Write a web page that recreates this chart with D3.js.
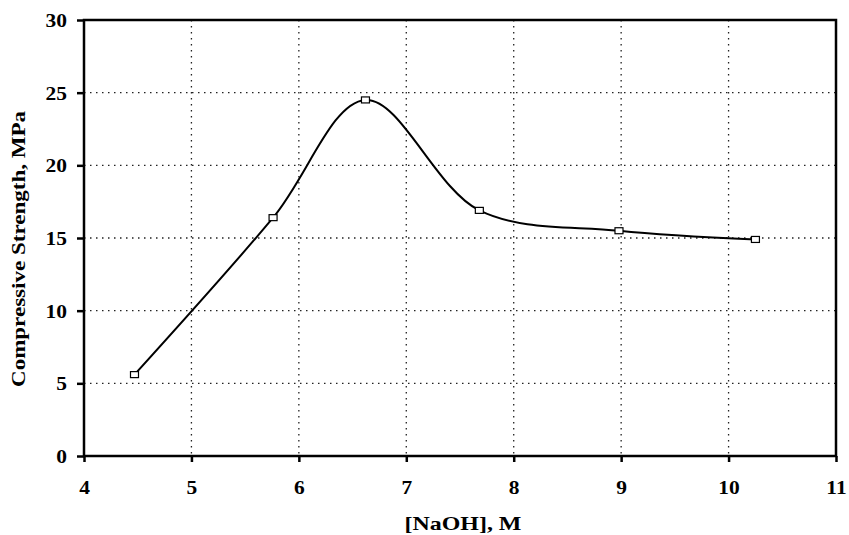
<!DOCTYPE html>
<html><head><meta charset="utf-8">
<script src="https://cdn.jsdelivr.net/npm/d3@7"></script>
<style>body{margin:0;background:#fff}svg text{font-family:"Liberation Serif","Times New Roman",serif;font-weight:bold}</style>
</head><body><svg id="c" width="849" height="535"></svg>
<script>
const naoh = [4.47, 5.76, 6.62, 7.68, 8.98, 10.25];
const strength = [5.6, 16.4, 24.5, 16.9, 15.5, 14.9];
const xTicks = [4,5,6,7,8,9,10,11];
const yTicks = [0,5,10,15,20,25,30];
const xLabel = "[NaOH], M";
const yLabel = "Compressive Strength, MPa";

const svg = d3.select("#c");
const L=84, R=836, T=20, B=456;
const x = d3.scaleLinear().domain([4,11]).range([L,R]);
const y = d3.scaleLinear().domain([0,30]).range([B,T]);

// grid
svg.append("g").selectAll("line").data(xTicks.slice(1,-1)).join("line")
  .attr("x1",d=>x(d)).attr("x2",d=>x(d)).attr("y1",T).attr("y2",B)
  .attr("stroke","#222").attr("stroke-width",1.3).attr("stroke-dasharray","1.5,4.5");
svg.append("g").selectAll("line").data(yTicks.slice(1,-1)).join("line")
  .attr("y1",d=>y(d)).attr("y2",d=>y(d)).attr("x1",L).attr("x2",R)
  .attr("stroke","#222").attr("stroke-width",1.3).attr("stroke-dasharray","1.5,4.5");

// axes
const xa = svg.append("g").attr("transform",`translate(0,${B})`)
  .call(d3.axisBottom(x).tickValues(xTicks).tickSize(6).tickPadding(20).tickFormat(d3.format("d")));
const ya = svg.append("g").attr("transform",`translate(${L},0)`)
  .call(d3.axisLeft(y).tickValues(yTicks).tickSize(7).tickPadding(10).tickFormat(d3.format("d")));
[xa,ya].forEach(a=>{
  a.attr("font-family","Liberation Serif");
  a.select(".domain").remove();
  a.selectAll(".tick line").attr("stroke","#000").attr("stroke-width",2.5);
  a.selectAll("text").attr("font-size",19).attr("fill","#000")
   .style("font-family","'Liberation Serif',serif").style("font-weight","bold");
});
xa.selectAll(".tick text").attr("y",null).attr("dy",null)
  .attr("transform","translate(0,38) scale(1.13,1)");
ya.selectAll(".tick text").attr("x",null).attr("dy","0.34em")
  .attr("transform","translate(-17,0) scale(1.13,1)");

// frame
svg.append("rect").attr("x",L).attr("y",T).attr("width",R-L).attr("height",B-T)
  .attr("fill","none").attr("stroke","#000").attr("stroke-width",2.5);

// curve
const pts = naoh.map((d,i)=>[d,strength[i]]);
svg.append("path").datum(pts)
  .attr("d",d3.line().x(d=>x(d[0])).y(d=>y(d[1])).curve(d3.curveCatmullRom.alpha(0.5)))
  .attr("fill","none").attr("stroke","#000").attr("stroke-width",2);
svg.append("g").selectAll("rect").data(pts).join("rect")
  .attr("x",d=>x(d[0])-4).attr("y",d=>y(d[1])-3).attr("width",8).attr("height",6)
  .attr("fill","#fff").attr("stroke","#000").attr("stroke-width",1.2);

// labels
svg.append("text").attr("transform","translate(463,530) scale(1.33,1)").attr("text-anchor","middle")
  .attr("font-size",18).text(xLabel);
svg.append("text").attr("transform",`translate(25,249) rotate(-90) scale(1.28,1)`)
  .attr("text-anchor","middle").attr("font-size",18).text(yLabel);
</script></body></html>
